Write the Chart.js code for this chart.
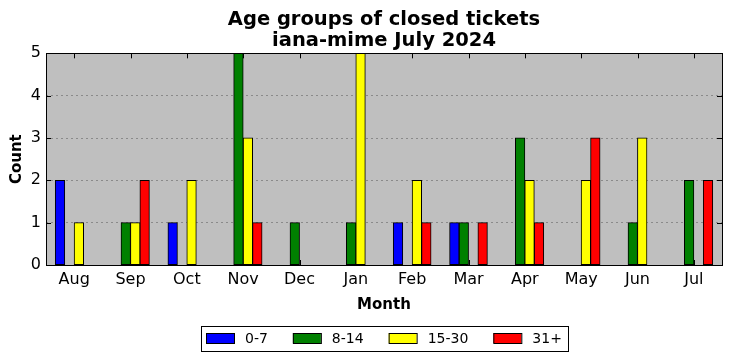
<!DOCTYPE html>
<html>
<head>
<meta charset="utf-8">
<script src="https://cdn.jsdelivr.net/npm/chart.js@4"></script>
<style>
  html, body { margin: 0; padding: 0; background: #fff; }
  #wrap { width: 732px; height: 361px; }
</style>
</head>
<body>
<div id="wrap"><canvas id="chart" width="732" height="361"></canvas></div>
<script>
const months = ['Aug', 'Sep', 'Oct', 'Nov', 'Dec', 'Jan', 'Feb', 'Mar', 'Apr', 'May', 'Jun', 'Jul'];
const age0to7   = [2, 0, 1, 0, 0, 0, 1, 1, 0, 0, 0, 0];
const age8to14  = [0, 1, 0, 5, 1, 1, 0, 1, 3, 0, 1, 2];
const age15to30 = [1, 1, 2, 3, 0, 5, 2, 0, 2, 2, 3, 0];
const age31plus = [0, 2, 0, 1, 0, 0, 1, 1, 1, 3, 0, 2];
const yTicks = [0, 1, 2, 3, 4, 5];

const FONT = 'DejaVu Sans';

// grey plot background, black frame and inward tick marks (matplotlib look)
const frame = {
    id: 'frame',
    beforeDraw(chart) {
        const {ctx, chartArea: a} = chart;
        ctx.save();
        ctx.fillStyle = '#bfbfbf';
        ctx.fillRect(a.left, a.top, a.right - a.left, a.bottom - a.top);
        ctx.restore();
    },
    beforeDatasetsDraw(chart) {
        const {ctx, chartArea: a, scales} = chart;
        ctx.save();
        ctx.strokeStyle = '#000';
        ctx.lineWidth = 1;
        ctx.beginPath();
        months.forEach((m, i) => {
            const x = Math.round(scales.x.getPixelForValue(i)) + 0.5;
            ctx.moveTo(x, a.top); ctx.lineTo(x, a.top + 5);
            ctx.moveTo(x, a.bottom); ctx.lineTo(x, a.bottom - 5);
        });
        yTicks.forEach(v => {
            const y = Math.round(scales.y.getPixelForValue(v)) + 0.5;
            ctx.moveTo(a.left, y); ctx.lineTo(a.left + 5, y);
            ctx.moveTo(a.right, y); ctx.lineTo(a.right - 5, y);
        });
        ctx.stroke();
        ctx.restore();
    },
    afterDatasetsDraw(chart) {
        const {ctx, chartArea: a} = chart;
        ctx.save();
        ctx.strokeStyle = '#000';
        ctx.lineWidth = 1;
        ctx.strokeRect(Math.round(a.left) + 0.5, Math.round(a.top) + 0.5,
            Math.round(a.right - a.left), Math.round(a.bottom - a.top));
        ctx.restore();
    }
};

// boxed legend under the x axis title
const boxLegend = {
    id: 'boxLegend',
    afterDraw(chart) {
        const {ctx, chartArea: a} = chart;
        const sets = chart.data.datasets;
        ctx.save();
        ctx.font = '14px ' + FONT;
        const sw = 28, sh = 10, gap = 11, spacing = 25, padL = 5, padR = 6;
        let total = padL + padR;
        sets.forEach((d, i) => {
            total += sw + gap + ctx.measureText(d.label).width;
            if (i < sets.length - 1) total += spacing;
        });
        const left = Math.round((a.left + a.right) / 2 - total / 2);
        const top = 326, h = 25, cy = 338;
        ctx.strokeStyle = '#000';
        ctx.lineWidth = 1;
        ctx.strokeRect(left + 0.5, top + 0.5, Math.round(total), h);
        let x = left + padL;
        sets.forEach(d => {
            ctx.fillStyle = d.backgroundColor;
            ctx.fillRect(x, cy - sh / 2, sw, sh);
            ctx.strokeRect(x + 0.5, cy - sh / 2 + 0.5, sw, sh);
            x += sw + gap;
            ctx.fillStyle = '#000';
            ctx.textBaseline = 'middle';
            ctx.fillText(d.label, x, cy + 1);
            x += ctx.measureText(d.label).width + spacing;
        });
        ctx.restore();
    }
};

const ctx = document.getElementById('chart').getContext('2d');

new Chart(ctx, {
    type: 'bar',
    data: {
        labels: months,
        datasets: [
            { label: '0-7',   data: age0to7,   backgroundColor: '#0000ff' },
            { label: '8-14',  data: age8to14,  backgroundColor: '#008000' },
            { label: '15-30', data: age15to30, backgroundColor: '#ffff00' },
            { label: '31+',   data: age31plus, backgroundColor: '#ff0000' }
        ]
    },
    options: {
        responsive: false,
        animation: false,
        layout: { padding: { left: 0, right: 10, top: 0, bottom: 46 } },
        datasets: {
            bar: {
                borderColor: '#000',
                borderWidth: 1,
                borderSkipped: false,
                inflateAmount: 0.4,
                categoryPercentage: 0.67,
                barPercentage: 1.0
            }
        },
        plugins: {
            legend: { display: false },
            tooltip: { enabled: false },
            title: {
                display: true,
                fullSize: false,
                text: ['Age groups of closed tickets', 'iana-mime July 2024'],
                color: '#000',
                font: { family: FONT, size: 19.5, weight: 'bold', lineHeight: 1.06 },
                padding: { top: 10, bottom: 2 }
            }
        },
        scales: {
            x: {
                grid: { display: false, drawTicks: false },
                border: { display: false },
                ticks: { color: '#000', font: { family: FONT, size: 16 }, padding: 5, maxRotation: 0 },
                title: {
                    display: true,
                    text: 'Month',
                    color: '#000',
                    font: { family: FONT, size: 15, weight: 'bold' },
                    padding: { top: 0, bottom: 1 }
                },
                afterFit(scale) { scale.height = 50; }
            },
            y: {
                min: 0,
                max: 5,
                grid: {
                    color: '#8a8a8a',
                    lineWidth: 1,
                    drawTicks: false
                },
                border: { display: false, dash: [2, 3] },
                ticks: {
                    stepSize: 1,
                    color: '#000',
                    font: { family: FONT, size: 16 },
                    padding: 5
                },
                title: {
                    display: true,
                    text: 'Count',
                    color: '#000',
                    font: { family: FONT, size: 15, weight: 'bold' },
                    padding: { top: 8, bottom: 0 }
                },
                afterFit(scale) { scale.width = 46; }
            }
        }
    },
    plugins: [frame, boxLegend]
});
</script>
</body>
</html>
